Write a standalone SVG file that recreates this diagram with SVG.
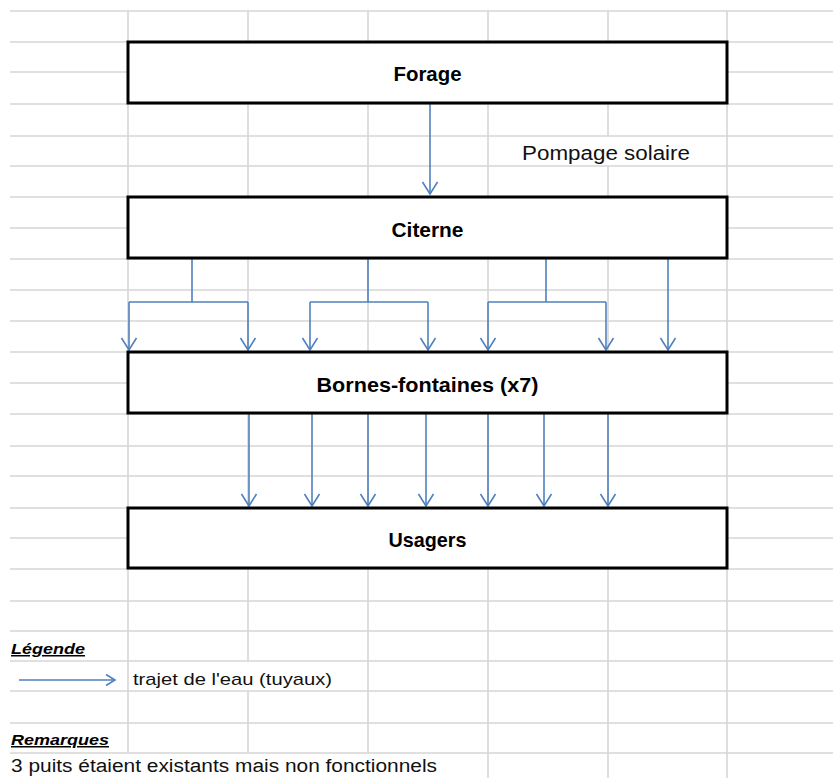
<svg xmlns="http://www.w3.org/2000/svg" width="833" height="778" viewBox="0 0 833 778">
<defs>
<style>
.grid{stroke:#d6d6d6;stroke-width:1.6;fill:none}
.box{fill:#fff;stroke:#000;stroke-width:3}
.lbl{font-family:"Liberation Sans",Arial,sans-serif;font-weight:bold;font-size:21px;fill:#000;text-anchor:middle}
.txt{font-family:"Liberation Sans",Arial,sans-serif;fill:#111}
.hd{font-family:"Liberation Sans",Arial,sans-serif;font-weight:bold;font-style:italic;font-size:15px;fill:#000;text-decoration:underline}
.pipe{stroke:#4f81bd;stroke-width:1.6;fill:none}
</style>
<marker id="ah" markerUnits="userSpaceOnUse" markerWidth="30" markerHeight="30" refX="0" refY="0" orient="auto" overflow="visible">
<path d="M-12,-7.5 L0,0 L-12,7.5" fill="none" stroke="#4f81bd" stroke-width="1.6"/>
</marker>
<marker id="ahs" markerUnits="userSpaceOnUse" markerWidth="30" markerHeight="30" refX="0" refY="0" orient="auto" overflow="visible">
<path d="M-9,-5.5 L0,0 L-9,5.5" fill="none" stroke="#4f81bd" stroke-width="1.6"/>
</marker>
</defs>
<rect width="833" height="778" fill="#fff"/>
<g id="grid">
<path class="grid" d="M10 11H833M10 42H833M10 72H833M10 104H833M10 136H833M10 166H833M10 197H833M10 228H833M10 259H833M10 290H833M10 321H833M10 352H833M10 383H833M10 414H833M10 446H833M10 476H833M10 508H833M10 538H833M10 569H833M10 601H833M10 631H833M10 661H833M10 691H833M10 723H833M10 753H833"/>
<path class="grid" d="M128 11V753M248 11V661M248 691V753M368 11V753M488 11V778M608 11V136M608 166V778M727 11V778"/>
</g>
<g id="connectors">
<path class="pipe" d="M430 104V194" marker-end="url(#ah)"/>
<path class="pipe" d="M192 259V302M129 302H248"/>
<path class="pipe" d="M129 302V350" marker-end="url(#ah)"/>
<path class="pipe" d="M248 302V350" marker-end="url(#ah)"/>
<path class="pipe" d="M368 259V302M310 302H428"/>
<path class="pipe" d="M310 302V350" marker-end="url(#ah)"/>
<path class="pipe" d="M428 302V350" marker-end="url(#ah)"/>
<path class="pipe" d="M546 259V302M488 302H606"/>
<path class="pipe" d="M488 302V350" marker-end="url(#ah)"/>
<path class="pipe" d="M606 302V350" marker-end="url(#ah)"/>
<path class="pipe" d="M668 259V350" marker-end="url(#ah)"/>
<path class="pipe" d="M249 414V506" marker-end="url(#ah)"/>
<path class="pipe" d="M312 414V506" marker-end="url(#ah)"/>
<path class="pipe" d="M368 414V506" marker-end="url(#ah)"/>
<path class="pipe" d="M426 414V506" marker-end="url(#ah)"/>
<path class="pipe" d="M488 414V506" marker-end="url(#ah)"/>
<path class="pipe" d="M544 414V506" marker-end="url(#ah)"/>
<path class="pipe" d="M608 414V506" marker-end="url(#ah)"/>
</g>
<g id="forage">
<rect class="box" x="128" y="42" width="599" height="61"/>
<text class="lbl" x="427.5" y="81" textLength="68" lengthAdjust="spacingAndGlyphs">Forage</text>
</g>
<g id="pompage">
<text class="txt" x="522" y="160" font-size="20" textLength="168" lengthAdjust="spacingAndGlyphs">Pompage solaire</text>
</g>
<g id="citerne">
<rect class="box" x="128" y="197" width="599" height="61"/>
<text class="lbl" x="427.5" y="237" textLength="72" lengthAdjust="spacingAndGlyphs">Citerne</text>
</g>
<g id="bornes">
<rect class="box" x="128" y="352" width="599" height="61"/>
<text class="lbl" x="427.5" y="392" textLength="222" lengthAdjust="spacingAndGlyphs">Bornes-fontaines (x7)</text>
</g>
<g id="usagers">
<rect class="box" x="128" y="508" width="599" height="60"/>
<text class="lbl" x="427.5" y="547" textLength="78" lengthAdjust="spacingAndGlyphs">Usagers</text>
</g>
<g id="legende">
<text class="hd" x="11" y="654" textLength="74" lengthAdjust="spacingAndGlyphs">Légende</text>
<path class="pipe" d="M19 680H115" marker-end="url(#ahs)"/>
<text class="txt" x="133" y="685" font-size="17" textLength="199" lengthAdjust="spacingAndGlyphs">trajet de l'eau (tuyaux)</text>
</g>
<g id="remarques">
<text class="hd" x="11" y="745" textLength="98" lengthAdjust="spacingAndGlyphs">Remarques</text>
<text class="txt" x="11" y="772" font-size="18" textLength="426" lengthAdjust="spacingAndGlyphs">3 puits étaient existants mais non fonctionnels</text>
</g>
</svg>
